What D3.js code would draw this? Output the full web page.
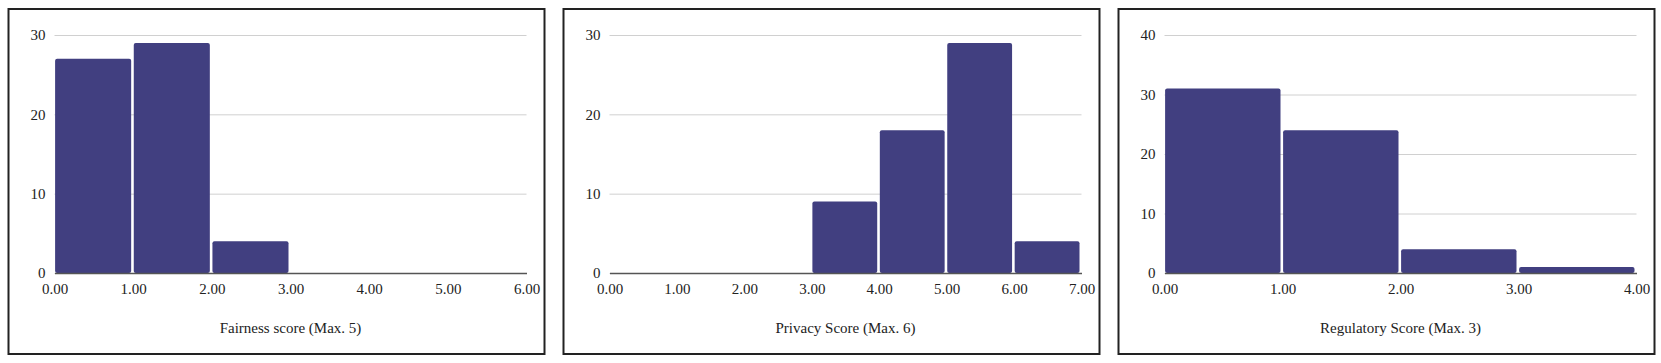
<!DOCTYPE html>
<html>
<head>
    <meta charset="utf-8">
    <title>Score histograms</title>
    <script src="https://d3js.org/d3.v7.min.js"></script>
</head>
<body style="margin:0; background:white">
    <svg width="1661" height="363"></svg>

<script>

    // bin edges and counts
    let fairnessBins = [0, 1, 2, 3, 4, 5, 6]
    let fairnessCounts = [27, 29, 4, 0, 0, 0]

    let privacyBins = [0, 1, 2, 3, 4, 5, 6, 7]
    let privacyCounts = [0, 0, 0, 9, 18, 29, 4]

    let regulatoryBins = [0, 1, 2, 3, 4]
    let regulatoryCounts = [31, 24, 4, 1]

    let fairnessTicks = [0, 10, 20, 30]
    let privacyTicks = [0, 10, 20, 30]
    let regulatoryTicks = [0, 10, 20, 30, 40]

    let titles = ["Fairness score (Max. 5)", "Privacy Score (Max. 6)", "Regulatory Score (Max. 3)"]

    let panels = [
        { bins: fairnessBins, counts: fairnessCounts, yTicks: fairnessTicks, title: titles[0] },
        { bins: privacyBins, counts: privacyCounts, yTicks: privacyTicks, title: titles[1] },
        { bins: regulatoryBins, counts: regulatoryCounts, yTicks: regulatoryTicks, title: titles[2] }
    ]

    let svg = d3.select("svg")

    let boxW = 536
    let boxH = 345
    let boxTop = 9
    let step = 555

    let barColor = "#413f80"
    let serif = '"Liberation Serif", "Times New Roman", serif'

    function styleText(sel) {
        sel.style("font-family", serif)
            .style("font-size", "15px")
            .style("fill", "#222")
    }

    panels.forEach((p, i) => {
        let left = 8 + i * step

        let g = svg.append("g")

        // frame
        g.append("rect")
            .attr("x", left + 0.5)
            .attr("y", boxTop)
            .attr("width", boxW)
            .attr("height", boxH)
            .attr("fill", "white")
            .attr("stroke", "#222")
            .attr("stroke-width", 2)

        let x = d3.scaleLinear()
            .domain([p.bins[0], p.bins[p.bins.length - 1]])
            .range([left + 46.5, left + 518.5])

        let y = d3.scaleLinear()
            .domain([0, d3.max(p.yTicks)])
            .range([273, 35])

        // gridlines + y labels
        let yAxis = g.append("g")
            .attr("transform", `translate(${x.range()[0]},0)`)
            .call(d3.axisLeft(y)
                .tickValues(p.yTicks)
                .tickSize(-(x.range()[1] - x.range()[0]))
                .tickPadding(9)
                .tickFormat(d3.format("d")))

        yAxis.select(".domain").remove()
        yAxis.selectAll(".tick line")
            .attr("stroke", "#d0d0d0")
        yAxis.selectAll(".tick text").call(styleText)

        // bars
        let rows = p.counts.map((c, k) => ({ x0: p.bins[k], x1: p.bins[k + 1], n: c }))

        g.append("g")
            .selectAll("rect")
            .data(rows.filter(d => d.n > 0))
            .join("rect")
            .attr("x", d => x(d.x0) + 0.6)
            .attr("width", d => x(d.x1) - x(d.x0) - 2.6)
            .attr("y", d => y(d.n))
            .attr("height", d => y(0) - y(d.n))
            .attr("rx", 2)
            .attr("fill", barColor)

        // x axis: baseline + labels
        let xAxis = g.append("g")
            .attr("transform", `translate(0,${y(0)})`)
            .call(d3.axisBottom(x)
                .tickValues(p.bins)
                .tickSize(0)
                .tickPadding(10)
                .tickFormat(d3.format(".2f")))

        xAxis.select(".domain")
            .attr("stroke", "#555")
            .attr("stroke-width", 1.3)
        xAxis.selectAll(".tick text").call(styleText)

        // axis title
        g.append("text")
            .text(p.title)
            .attr("x", (x.range()[0] + x.range()[1]) / 2)
            .attr("y", 333)
            .attr("text-anchor", "middle")
            .call(styleText)
    })

</script>
</body>
</html>
